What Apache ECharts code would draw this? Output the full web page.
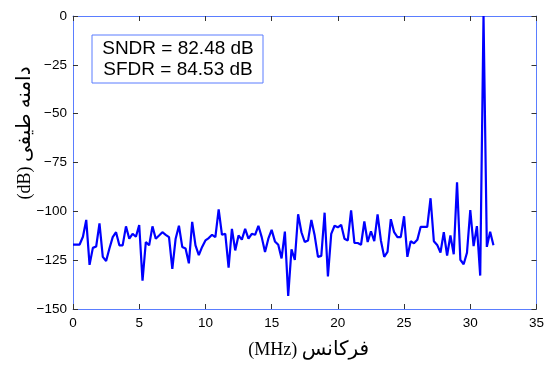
<!DOCTYPE html>
<html>
<head>
<meta charset="utf-8">
<script src="https://cdn.jsdelivr.net/npm/echarts@6/dist/echarts.min.js"></script>
<style>
  html, body { margin: 0; padding: 0; background: #fff; }
  #chart { width: 547px; height: 365px; }
</style>
</head>
<body>
<div id="chart"></div>
<script>
// spectrum bins, 0.25 MHz apart, starting at 0 MHz
const binWidthMHz = 0.25;
const amplitudeDb = [
  -117, -117, -117, -113, -104.4, -127.4, -118.7, -118, -106.2, -123.3,
  -125.4, -119, -113.2, -110.7, -117.4, -117.4, -107.7, -114, -111.5, -113,
  -107, -135.5, -115.7, -117.4, -107.7, -114, -112.4, -110.7, -112, -113.2,
  -129.5, -114, -107.4, -118.2, -119, -126.6, -105.4, -117.4, -122.4, -118.2,
  -114.9, -113.7, -112, -113.2, -99, -112, -111.5, -128.8, -109, -120,
  -112.4, -114.5, -109, -114, -111.5, -112, -107.4, -113.2, -120.8, -114,
  -109.5, -115.4, -117.1, -124.1, -110.4, -143.3, -119.4, -124.9, -101.5, -110.7,
  -115.7, -114.9, -104.4, -112.4, -123.3, -122.8, -100.7, -133.3, -111.5, -107.4,
  -108.2, -106.9, -114, -114.9, -99.5, -116.2, -116.2, -117.1, -105.2, -115.7,
  -110.2, -115.2, -101.5, -114.9, -123.3, -120.8, -104, -110.7, -113.2, -113.2,
  -102.5, -123.3, -115.3, -116.4, -114.6, -108, -108, -108, -93.3, -115.3,
  -117.2, -121.1, -110.7, -122.6, -112.4, -122, -85.1, -124.8, -127.1, -121.2,
  -99.4, -117.8, -107.6, -132.9, 0, -118.2, -110.4, -117.4
];

const xRange = [0, 35], xStep = 5;
const yRange = [-150, 0], yStep = 25;
const infoLines = ['SNDR = 82.48 dB', 'SFDR = 84.53 dB'];
// titles: [unit, persian word], drawn left to right as unit then word
const xTitle = ['(MHz)', 'فرکانس'];
const yTitle = ['(dB)', 'دامنه طیفی'];

const frameColor = '#5a7dff';
const tickColor = '#333';
const serif = '"Liberation Serif", "DejaVu Serif", "DejaVu Sans", serif';
const sans = '"Liberation Sans", Arial, sans-serif';

const points = amplitudeDb.map((v, i) => [i * binWidthMHz, v]);
const minus = v => (v < 0 ? '\u2212' + Math.abs(v) : String(v));
const titleRich = {
  u: {fontSize: 18, fontFamily: serif, color: '#000'},
  p: {fontSize: 20, fontFamily: serif, color: '#000'}
};
const titleText = t => '{u|' + t[0] + '} {p|' + t[1] + '}';

const axisCommon = {
  type: 'value',
  axisLine: {show: true, onZero: false, lineStyle: {color: frameColor, width: 1}},
  axisTick: {show: true, inside: true, length: 5, lineStyle: {color: tickColor}},
  splitLine: {show: false}
};

const chart = echarts.init(document.getElementById('chart'));
chart.setOption({
  animation: false,
  grid: {left: 73, top: 16, width: 466, height: 299},
  xAxis: [
    {
      ...axisCommon, min: xRange[0], max: xRange[1], interval: xStep, position: 'bottom',
      axisLabel: {color: '#000', fontSize: 13.5, fontFamily: sans, margin: 7},
      name: titleText(xTitle), nameLocation: 'middle', nameGap: 31,
      nameTextStyle: {color: '#000', fontSize: 18, fontFamily: serif, rich: titleRich, padding: [0, 0, 0, 8]}
    },
    {
      ...axisCommon, min: xRange[0], max: xRange[1], interval: xStep, position: 'top',
      axisLabel: {show: false}
    }
  ],
  yAxis: [
    {
      ...axisCommon, min: yRange[0], max: yRange[1], interval: yStep, position: 'left',
      axisLabel: {color: '#000', fontSize: 13.5, fontFamily: sans, margin: 6, formatter: minus}
    },
    {
      ...axisCommon, min: yRange[0], max: yRange[1], interval: yStep, position: 'right',
      axisLabel: {show: false}
    }
  ],
  graphic: [
    {
      type: 'text', x: 25, y: 133, rotation: Math.PI / 2,
      style: {
        text: titleText(yTitle), rich: titleRich, fill: '#000', font: '18px ' + serif,
        align: 'center', verticalAlign: 'middle',
        textAlign: 'center', textVerticalAlign: 'middle'
      }
    },
    {
      type: 'rect', x: 92, y: 35, z: 10,
      shape: {width: 171, height: 48},
      style: {fill: '#fff', stroke: frameColor, lineWidth: 1}
    },
    {
      type: 'text', x: 178, y: 59.5, z: 11,
      style: {
        text: infoLines.join('\n'), fill: '#000', font: '19px ' + sans, lineHeight: 21,
        align: 'center', verticalAlign: 'middle',
        textAlign: 'center', textVerticalAlign: 'middle'
      }
    }
  ],
  series: [{
    type: 'line',
    data: points,
    showSymbol: false,
    lineStyle: {color: '#0000ff', width: 2.2},
    clip: true
  }]
});
</script>
</body>
</html>
